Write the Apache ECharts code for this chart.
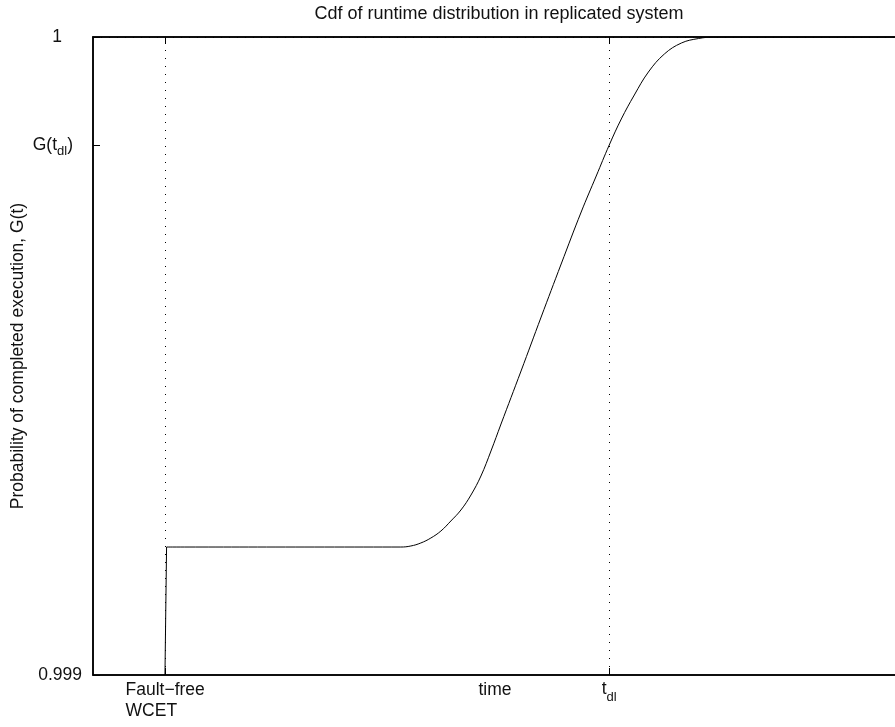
<!DOCTYPE html>
<html>
<head>
<meta charset="utf-8">
<script src="https://cdn.jsdelivr.net/npm/echarts@6/dist/echarts.min.js"></script>
<style>
  html, body { margin: 0; padding: 0; background: #fff; }
  #chart { width: 895px; height: 727px; }
</style>
</head>
<body>
<div id="chart"></div>
<script>
// time axis in arbitrary units (0..100), probability G(t)
const timeVals = [8.95, 9.15, 38.28, 39.53, 40.77, 42.02, 43.27, 44.51, 45.76, 47.01, 48.25, 49.50,
  50.75, 53.24, 55.74, 58.23, 60.72, 62.59, 64.21, 65.71, 67.33, 69.08, 71.07, 73.19, 75.31, 77.31, 100]
const probVals = [0.999, 0.9992006, 0.9992006, 0.9992022, 0.9992069, 0.9992147, 0.9992257, 0.9992414,
  0.9992586, 0.9992821, 0.9993119, 0.9993511, 0.9993934, 0.9994765, 0.9995611, 0.9996442, 0.9997257,
  0.9997821, 0.9998307, 0.9998715, 0.9999091, 0.9999451, 0.9999734, 0.9999906, 0.9999976, 1.0, 1.0]

const WCET = 8.98
const TDL = 64.21
const G_TDL = 0.9998307
const xTicks = [WCET, TDL]
const yTicks = [0.999, G_TDL, 1]

const points = timeVals.map((t, i) => [t, probVals[i]])

const chart = echarts.init(document.getElementById('chart'))
const font = 'Liberation Sans, Arial, sans-serif'
const txt = '#111'
const fs = 17.5

const option = {
  backgroundColor: '#fff',
  animation: false,
  title: {
    text: 'Cdf of runtime distribution in replicated system',
    left: 494,
    top: 0,
    textAlign: 'center',
    textStyle: { fontFamily: font, fontSize: 18, fontWeight: 'normal', color: txt }
  },
  grid: {
    left: 93, top: 37, right: -2, bottom: 52,
    outerBoundsMode: 'none', containLabel: false,
    show: true, borderColor: '#000', borderWidth: 1.5
  },
  xAxis: [
    {
      type: 'value',
      min: 0,
      max: 100,
      name: 'time',
      nameLocation: 'middle',
      nameGap: 6,
      nameMoveOverlap: false,
      nameTextStyle: { fontFamily: font, fontSize: fs, color: txt, verticalAlign: 'top' },
      axisLine: { lineStyle: { color: '#000', width: 1.5 } },
      splitLine: { show: false },
      axisTick: { customValues: xTicks, inside: true, length: 7, lineStyle: { color: '#000' } },
      axisLabel: {
        customValues: xTicks,
        margin: 5,
        fontFamily: font,
        fontSize: fs,
        color: txt,
        formatter: function (v) {
          if (Math.abs(v - WCET) < 0.5) return '{a|Fault\u2212free}\n{a|WCET}'
          return '{n|t}{s|dl}'
        },
        rich: {
          a: { fontFamily: font, fontSize: fs, color: txt, align: 'left', lineHeight: 21 },
          n: { fontFamily: font, fontSize: fs, color: txt, lineHeight: 18, verticalAlign: 'top' },
          s: { fontFamily: font, fontSize: 13, color: txt, lineHeight: 15, verticalAlign: 'top', padding: [11, 0, 0, 0] }
        }
      }
    },
    {
      type: 'value',
      position: 'top',
      min: 0,
      max: 100,
      axisLine: { show: true, lineStyle: { color: '#000', width: 1.5 } },
      splitLine: { show: false },
      axisTick: { customValues: xTicks, inside: true, length: 7, lineStyle: { color: '#000' } },
      axisLabel: { show: false }
    }
  ],
  yAxis: {
    type: 'value',
    min: 0.999,
    max: 1,
    name: 'Probability of completed execution, G(t)',
    nameLocation: 'middle',
    nameGap: 66,
    nameMoveOverlap: false,
    nameTextStyle: { fontFamily: font, fontSize: fs, color: txt },
    axisLine: { show: true, lineStyle: { color: '#000', width: 1.5 } },
    splitLine: { show: false },
    axisTick: { customValues: yTicks, inside: true, length: 7, lineStyle: { color: '#000' } },
    axisLabel: {
      customValues: yTicks,
      margin: 11,
      formatter: function (v) {
        if (Math.abs(v - 1) < 1e-6) return '{one|1}'
        if (Math.abs(v - G_TDL) < 1e-6) return '{n|G(t}{s|dl}{g|)}'
        return '{z|0.999}'
      },
      rich: {
        one: { fontFamily: font, fontSize: fs, color: txt, padding: [0, 20, 0, 0] },
        z: { fontFamily: font, fontSize: fs, color: txt },
        n: { fontFamily: font, fontSize: fs, color: txt, lineHeight: 18, verticalAlign: 'top' },
        g: { fontFamily: font, fontSize: fs, color: txt, lineHeight: 18, verticalAlign: 'top', padding: [0, 9, 0, 0] },
        s: { fontFamily: font, fontSize: 13, color: txt, lineHeight: 15, verticalAlign: 'top', padding: [9, 0, 0, 0] }
      }
    }
  },
  series: [
    {
      // near-vertical rise at the fault-free WCET
      type: 'line',
      data: points.slice(0, 2),
      symbol: 'none',
      lineStyle: { color: '#000', width: 1 },
      markLine: {
        silent: true,
        symbol: 'none',
        label: { show: false },
        lineStyle: { color: '#000', width: 1, type: [1, 7] },
        data: [{ xAxis: WCET }, { xAxis: TDL }, { yAxis: G_TDL }]
      }
    },
    {
      type: 'line',
      data: points.slice(1),
      symbol: 'none',
      smooth: 0.4,
      lineStyle: { color: '#000', width: 1 }
    }
  ]
}

chart.setOption(option)
</script>
</body>
</html>
